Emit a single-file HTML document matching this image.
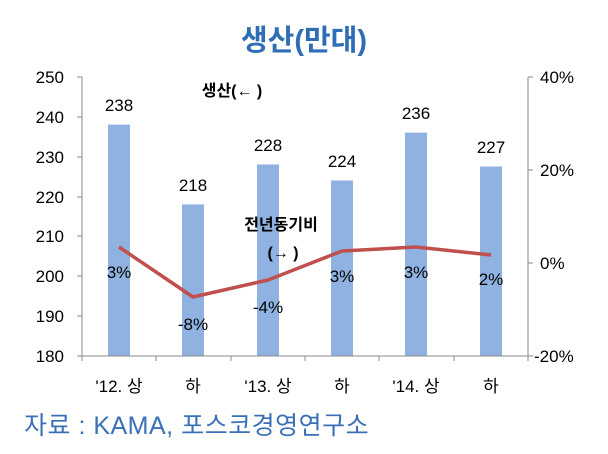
<!DOCTYPE html>
<html><head><meta charset="utf-8"><style>
body{margin:0;background:#fff;}
svg text{font-family:"Liberation Sans","Noto Sans CJK KR",sans-serif;}
</style></head><body>
<svg width="608" height="449" viewBox="0 0 608 449" xmlns="http://www.w3.org/2000/svg">
<text x="304" y="50" font-size="29" font-weight="bold" fill="#2f6eb5" text-anchor="middle">생산(만대)</text>
<g fill="#8fb2e0">
<rect x="108" y="124.6" width="22" height="231.4"/>
<rect x="182" y="204.4" width="22" height="151.6"/>
<rect x="257" y="164.5" width="22" height="191.5"/>
<rect x="331" y="180.5" width="22" height="175.5"/>
<rect x="405" y="132.6" width="22" height="223.4"/>
<rect x="480" y="166.5" width="22" height="189.5"/>
</g>
<g stroke="#888" stroke-width="1" fill="none">
<line x1="82" y1="77" x2="82" y2="356"/>
<line x1="528" y1="77" x2="528" y2="356"/>
<line x1="82" y1="356" x2="528" y2="356"/>
<path d="M77 77H82M77 117H82M77 157H82M77 197H82M77 236H82M77 276H82M77 316H82M77 356H82"/>
<path d="M528 77H533M528 170H533M528 263H533M528 356H533"/>
<path d="M82 356V361M156 356V361M231 356V361M305 356V361M379 356V361M454 356V361M528 356V361"/>
</g>
<g font-size="17" fill="#000" text-anchor="end">
<text x="64" y="83">250</text><text x="64" y="123">240</text><text x="64" y="163">230</text><text x="64" y="203">220</text><text x="64" y="242">210</text><text x="64" y="282">200</text><text x="64" y="322">190</text><text x="64" y="362">180</text>
</g>
<g font-size="17" fill="#000">
<text x="540" y="83">40%</text><text x="540" y="176">20%</text><text x="540" y="269">0%</text><text x="534" y="362">-20%</text>
</g>
<g font-size="17" fill="#000" text-anchor="middle">
<text x="119" y="392">'12. 상</text><text x="193" y="392">하</text><text x="268" y="392">'13. 상</text><text x="342" y="392">하</text><text x="416" y="392">'14. 상</text><text x="491" y="392">하</text>
<text x="119" y="111">238</text><text x="193" y="191">218</text><text x="268" y="151">228</text><text x="342" y="167">224</text><text x="416" y="119">236</text><text x="491" y="153">227</text>
<text x="119" y="278">3%</text><text x="193" y="330">-8%</text><text x="268" y="313">-4%</text><text x="342" y="282">3%</text><text x="416" y="278">3%</text><text x="491" y="285">2%</text>
</g>
<polyline points="119,247 193,297 268,280 342,251 416,247 491,255" fill="none" stroke="#c0504d" stroke-width="3.5" stroke-linejoin="round"/>
<g font-size="16" font-weight="bold" fill="#000" text-anchor="middle">
<text x="232" y="96">생산(← )</text>
<text x="281" y="230">전년동기비</text>
<text x="283" y="258">(→ )</text>
</g>
<text x="24" y="434" font-size="25" fill="#3a70b8" letter-spacing="0.5">자료 : KAMA,  포스코경영연구소</text>
</svg>
</body></html>
